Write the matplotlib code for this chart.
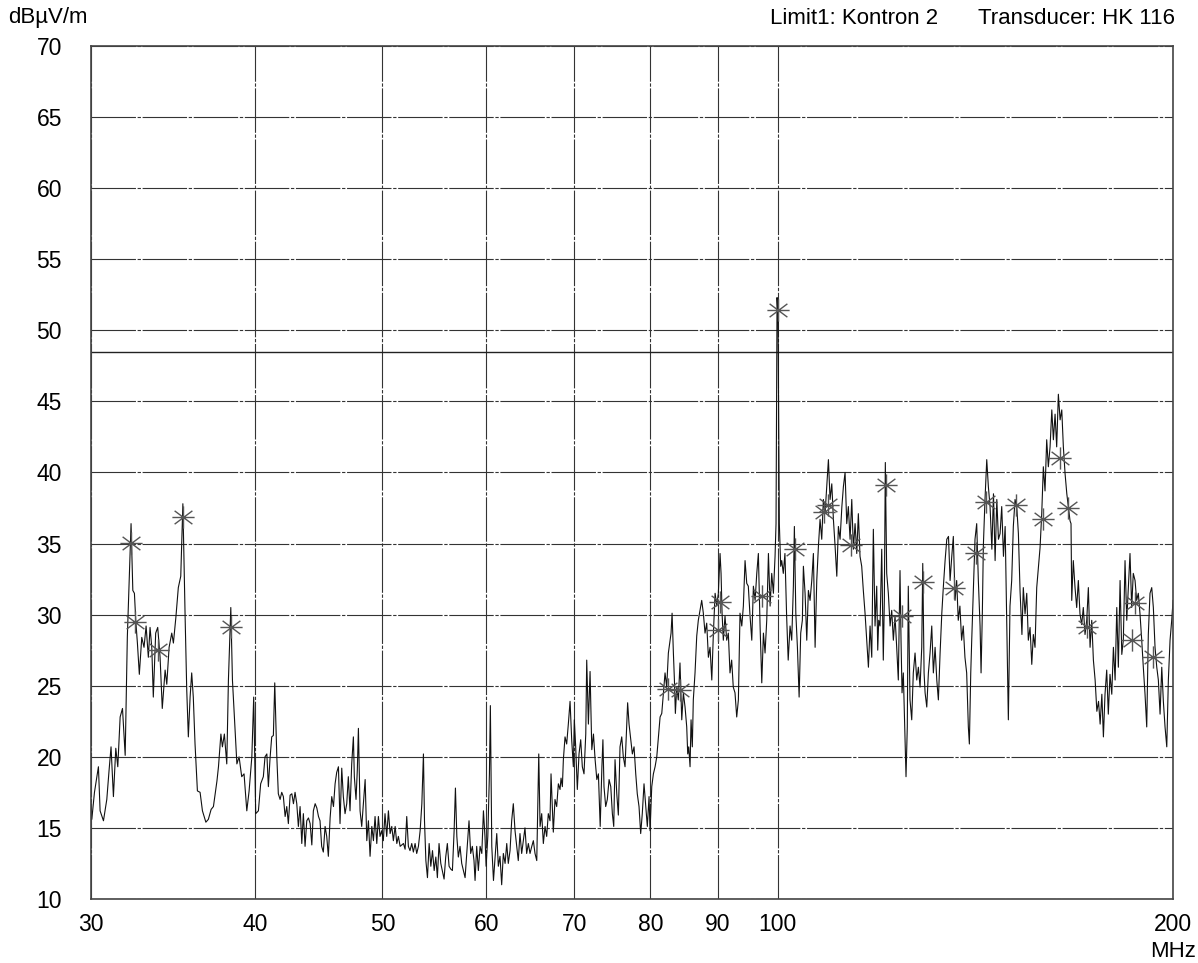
import matplotlib
matplotlib.use("Agg")
import matplotlib.pyplot as plt
import numpy as np
from matplotlib.path import Path
from matplotlib.ticker import FixedLocator, FixedFormatter, NullLocator

plt.rcParams['font.family'] = ['Liberation Sans', 'DejaVu Sans']

# measured trace, (MHz, dBuV/m), split by band
seg_30_41 = [(30.0, 16.9), (30.04, 15.6), (30.18, 17.5), (30.39, 19.3), (30.48, 16.2), (30.66, 15.5),
             (30.84, 17.0), (30.96, 19.0), (31.07, 20.7), (31.2, 17.2), (31.33, 20.6), (31.44, 19.3),
             (31.57, 22.8), (31.7, 23.4), (31.85, 20.1), (31.97, 28.4), (32.18, 36.4), (32.28, 31.7),
             (32.37, 31.5), (32.45, 29.5), (32.54, 28.0), (32.65, 25.8), (32.79, 28.4), (32.92, 27.7),
             (33.04, 29.2), (33.17, 27.0), (33.27, 29.1), (33.37, 27.7), (33.46, 24.2), (33.6, 28.7),
             (33.72, 29.1), (33.86, 27.0), (33.99, 23.4), (34.16, 26.1), (34.26, 25.1), (34.4, 27.7),
             (34.56, 28.7), (34.66, 28.0), (34.81, 29.8), (34.96, 31.9), (35.11, 32.7), (35.24, 37.8),
             (35.38, 29.8), (35.48, 24.7), (35.58, 21.4), (35.69, 24.2), (35.79, 25.9), (35.89, 24.2),
             (36.0, 20.9), (36.15, 17.6), (36.32, 17.5), (36.47, 16.2), (36.69, 15.4), (36.85, 15.6),
             (37.03, 16.3), (37.18, 16.5), (37.41, 18.3), (37.51, 19.3), (37.67, 21.6), (37.77, 20.7),
             (37.9, 21.6), (38.06, 19.5), (38.17, 25.4), (38.33, 30.5), (38.44, 25.4), (38.57, 22.8),
             (38.74, 19.5), (38.89, 20.0), (39.07, 18.6), (39.23, 18.8), (39.42, 16.2), (39.58, 17.6),
             (39.77, 20.0), (39.9, 24.2), (40.04, 16.0), (40.23, 16.2), (40.39, 18.1), (40.58, 18.6),
             (40.7, 20.0), (40.83, 20.2), (40.94, 17.9)]

seg_41_58 = [(41.06, 19.9), (41.18, 21.4), (41.3, 21.5), (41.4, 25.2), (41.55, 20.0), (41.66, 17.4),
             (41.79, 17.0), (41.91, 17.5), (42.03, 17.2), (42.16, 15.8), (42.28, 16.5), (42.4, 15.3),
             (42.53, 17.3), (42.66, 17.4), (42.78, 16.7), (42.9, 17.5), (43.03, 16.7), (43.15, 15.1),
             (43.28, 16.5), (43.41, 13.9), (43.53, 16.0), (43.66, 13.7), (43.79, 15.5), (43.92, 15.7),
             (44.05, 15.3), (44.18, 13.8), (44.3, 16.2), (44.44, 16.7), (44.57, 16.4), (44.7, 15.8),
             (44.82, 15.5), (44.95, 13.7), (45.08, 13.3), (45.22, 15.1), (45.35, 14.4), (45.48, 13.0),
             (45.62, 15.7), (45.75, 17.2), (45.89, 16.5), (46.02, 18.1), (46.15, 18.9), (46.29, 19.3),
             (46.42, 15.3), (46.56, 19.2), (46.69, 17.2), (46.83, 16.0), (46.97, 16.7), (47.1, 18.6),
             (47.24, 16.2), (47.38, 19.5), (47.52, 21.4), (47.6, 18.6), (47.74, 17.0), (47.85, 19.1),
             (47.94, 22.0), (48.08, 16.2), (48.22, 15.1), (48.36, 16.7), (48.51, 18.4), (48.65, 14.1),
             (48.79, 15.5), (48.93, 13.0), (49.08, 15.1), (49.22, 14.1), (49.36, 15.8), (49.51, 13.9),
             (49.65, 15.8), (49.79, 14.4), (49.94, 14.8), (50.08, 14.1), (50.23, 16.0), (50.38, 14.4),
             (50.53, 16.2), (50.68, 14.6), (50.83, 15.1), (50.97, 14.1), (51.13, 15.1), (51.28, 13.9),
             (51.42, 14.4), (51.58, 13.7), (51.73, 13.8), (51.88, 13.9), (52.03, 13.5), (52.18, 15.8),
             (52.33, 13.7), (52.48, 13.4), (52.64, 13.9), (52.79, 13.3), (52.95, 13.9), (53.1, 13.2),
             (53.26, 13.7), (53.42, 14.8), (53.58, 16.7), (53.73, 20.2), (53.83, 15.5), (53.96, 12.7),
             (54.11, 11.5), (54.27, 13.9), (54.43, 12.3), (54.59, 13.4), (54.75, 12.0), (54.91, 12.95),
             (55.06, 11.5), (55.22, 13.9), (55.39, 12.5), (55.54, 12.0), (55.71, 11.4), (55.87, 12.95),
             (56.03, 13.9), (56.2, 12.3), (56.37, 12.1), (56.53, 12.0), (56.7, 14.8), (56.83, 17.8),
             (56.97, 14.4), (57.12, 12.95), (57.29, 13.7), (57.46, 12.5), (57.63, 12.0), (57.8, 11.5),
             (57.97, 13.2), (58.13, 14.8)]

seg_58_81 = [(58.2, 15.5), (58.37, 13.2), (58.54, 13.7), (58.71, 12.7), (58.82, 11.3), (58.99, 13.7),
             (59.16, 12.0), (59.34, 13.7), (59.52, 13.2), (59.69, 16.2), (59.85, 14.4), (59.97, 12.3),
             (60.15, 14.4), (60.32, 18.8), (60.42, 23.6), (60.57, 13.7), (60.75, 11.3), (60.93, 13.0),
             (61.1, 14.6), (61.27, 12.3), (61.45, 13.0), (61.63, 11.0), (61.81, 13.2), (62.0, 12.5),
             (62.18, 13.9), (62.35, 12.5), (62.54, 13.4), (62.72, 15.5), (62.9, 16.7), (63.09, 14.8),
             (63.28, 13.7), (63.45, 12.7), (63.64, 14.6), (63.83, 13.2), (64.01, 14.1), (64.2, 15.0),
             (64.39, 13.2), (64.58, 13.9), (64.77, 13.2), (64.97, 13.7), (65.15, 14.1), (65.34, 13.2),
             (65.54, 12.7), (65.65, 16.5), (65.77, 20.2), (65.92, 15.1), (66.11, 16.0), (66.3, 13.9),
             (66.5, 15.1), (66.69, 14.4), (66.88, 16.0), (67.08, 15.5), (67.2, 18.8), (67.35, 16.5),
             (67.47, 14.7), (67.67, 17.0), (67.87, 16.5), (68.07, 18.1), (68.27, 17.7), (68.39, 18.5),
             (68.55, 17.9), (68.67, 19.8), (68.87, 21.4), (69.07, 20.9), (69.27, 22.3), (69.48, 23.9),
             (69.68, 21.2), (69.88, 19.3), (70.0, 22.6), (70.17, 20.7), (70.37, 17.7), (70.58, 20.2),
             (70.79, 21.2), (70.99, 19.3), (71.2, 18.8), (71.42, 21.6), (71.54, 26.8), (71.75, 22.3),
             (71.96, 26.0), (72.18, 20.5), (72.39, 21.6), (72.6, 19.8), (72.82, 18.4), (73.02, 18.8),
             (73.25, 15.1), (73.47, 19.3), (73.6, 21.2), (73.74, 17.9), (73.96, 16.5), (74.17, 17.0),
             (74.4, 18.4), (74.62, 17.9), (74.83, 16.0), (75.01, 15.1), (75.18, 19.8), (75.41, 17.4),
             (75.62, 15.9), (75.84, 20.7), (76.07, 21.4), (76.28, 20.0), (76.51, 19.3), (76.73, 22.1),
             (76.86, 23.8), (77.05, 22.3), (77.28, 21.2), (77.5, 20.2), (77.73, 20.7), (77.96, 18.8),
             (78.17, 17.4), (78.41, 16.5), (78.64, 14.6), (78.86, 16.0), (79.1, 18.1), (79.34, 16.5),
             (79.56, 15.1), (79.8, 17.2), (79.94, 14.8), (80.18, 17.9), (80.41, 18.8), (80.65, 19.3),
             (80.89, 20.0), (81.12, 21.4), (81.36, 22.8)]

seg_81_112 = [(81.6, 23.05), (81.84, 24.5), (82.07, 25.9), (82.31, 24.9), (82.55, 27.3), (82.8, 28.2),
              (82.94, 28.7), (83.09, 30.1), (83.28, 27.3), (83.43, 25.4), (83.57, 23.05), (83.77, 24.9),
              (84.0, 24.0), (84.25, 26.6), (84.51, 22.6), (84.75, 24.5), (85.0, 23.5), (85.25, 22.1),
              (85.4, 20.2), (85.55, 20.7), (85.75, 19.3), (85.9, 22.6), (86.09, 20.7), (86.24, 24.0),
              (86.5, 25.9), (86.76, 28.5), (87.0, 29.6), (87.26, 30.3), (87.52, 31.0), (87.77, 30.1),
              (88.03, 28.7), (88.29, 29.4), (88.55, 27.0), (88.81, 27.7), (89.08, 25.4), (89.33, 28.7),
              (89.6, 31.5), (89.86, 30.6), (90.11, 31.5), (90.38, 34.3), (90.54, 32.9), (90.7, 30.1),
              (90.9, 28.2), (91.17, 29.9), (91.44, 28.2), (91.7, 28.7), (91.97, 25.9), (92.24, 26.8),
              (92.5, 24.9), (92.78, 24.5), (93.06, 22.8), (93.33, 24.0), (93.6, 30.1), (93.89, 29.2),
              (94.15, 30.6), (94.43, 33.8), (94.71, 32.2), (94.97, 32.0), (95.26, 29.9), (95.55, 28.2),
              (95.82, 32.0), (96.11, 31.0), (96.39, 32.9), (96.66, 34.3), (96.95, 29.2), (97.24, 25.2),
              (97.52, 28.7), (97.8, 27.3), (98.09, 29.6), (98.38, 34.3), (98.67, 30.6), (98.95, 32.9),
              (99.24, 31.5), (99.53, 34.1), (99.7, 36.4), (99.88, 52.3), (100.05, 51.0), (100.28, 36.4),
              (100.52, 33.4), (100.7, 33.8), (100.98, 32.9), (101.27, 34.3), (101.57, 29.9), (101.85, 26.8),
              (102.18, 29.2), (102.48, 28.2), (102.78, 32.0), (102.96, 36.2), (103.22, 30.1), (103.51, 27.7),
              (103.82, 24.2), (104.11, 28.7), (104.41, 29.6), (104.6, 33.4), (104.91, 31.5), (105.22, 28.2),
              (105.52, 31.7), (105.83, 31.0), (106.15, 32.4), (106.45, 34.3), (106.77, 27.7), (107.08, 32.4),
              (107.39, 34.8), (107.7, 36.7), (108.02, 35.3), (108.33, 38.1), (108.65, 37.1), (108.98, 39.0),
              (109.29, 40.9), (109.61, 38.1), (109.94, 39.2), (110.25, 36.7), (110.58, 34.8), (110.91, 32.7),
              (111.22, 36.2), (111.55, 35.3)]

seg_112_153 = [(111.9, 37.6), (112.2, 39.0), (112.53, 40.0), (112.86, 36.4), (113.18, 37.6), (113.52, 35.3),
               (113.86, 38.1), (114.18, 34.6), (114.52, 36.4), (114.86, 34.3), (115.18, 37.1), (115.52, 34.1),
               (115.86, 33.4), (116.19, 31.7), (116.54, 30.1), (116.89, 28.2), (117.23, 26.3), (117.57, 29.2),
               (117.92, 27.0), (118.25, 36.0), (118.6, 29.2), (118.95, 32.0), (119.16, 27.5), (119.37, 29.6),
               (119.64, 29.2), (120.0, 34.6), (120.33, 26.8), (120.55, 31.0), (120.76, 40.7), (121.05, 32.9),
               (121.4, 31.5), (121.77, 29.2), (122.12, 30.3), (122.47, 28.2), (122.83, 29.9), (123.19, 27.7),
               (123.54, 25.4), (123.91, 33.1), (124.13, 28.2), (124.35, 24.5), (124.63, 25.9), (125.0, 21.2),
               (125.22, 18.6), (125.5, 22.1), (125.72, 32.0), (126.1, 24.0), (126.48, 22.6), (126.83, 25.9),
               (127.22, 27.3), (127.6, 25.4), (127.96, 26.3), (128.34, 24.9), (128.72, 27.7), (128.95, 33.6),
               (129.25, 25.9), (129.48, 24.5), (129.86, 23.5), (130.23, 25.9), (130.61, 27.3), (131.0, 29.2),
               (131.37, 25.9), (131.77, 27.7), (132.16, 25.4), (132.53, 24.0), (132.93, 27.3), (133.33, 30.1),
               (133.7, 32.0), (134.1, 33.8), (134.5, 35.3), (134.9, 35.5), (135.28, 32.4), (135.68, 34.1),
               (136.05, 35.5), (136.46, 31.0), (136.85, 32.4), (137.23, 29.6), (137.63, 30.6), (138.04, 28.2),
               (138.44, 29.2), (138.85, 27.0), (139.27, 25.9), (139.68, 22.1), (139.93, 20.9), (140.27, 25.9),
               (140.51, 28.2), (140.91, 31.7), (141.32, 35.3), (141.74, 36.4), (142.15, 32.4), (142.58, 29.2),
               (142.83, 25.9), (143.15, 30.1), (143.4, 34.8), (143.82, 38.1), (144.26, 40.9), (144.67, 39.0),
               (145.1, 37.6), (145.56, 34.6), (145.97, 38.5), (146.39, 33.8), (146.83, 38.1), (147.25, 35.3),
               (147.67, 35.7), (148.1, 37.6), (148.55, 34.1), (148.99, 36.2), (149.42, 29.2), (149.83, 22.6),
               (150.26, 30.6), (150.71, 32.4), (151.14, 36.2), (151.6, 38.1), (152.05, 37.6), (152.49, 35.7),
               (152.93, 31.7)]

seg_153_200 = [(153.44, 28.6), (153.81, 31.9), (154.28, 30.05), (154.74, 31.5), (155.17, 28.2), (155.64, 29.1),
               (156.11, 26.5), (156.54, 28.6), (157.0, 27.7), (157.47, 31.9), (157.92, 33.3), (158.39, 34.7),
               (158.86, 37.1), (159.31, 40.4), (159.78, 38.7), (160.25, 42.3), (160.71, 40.4), (161.2, 41.8),
               (161.69, 44.4), (162.14, 42.3), (162.62, 44.1), (163.08, 41.8), (163.56, 45.5), (164.06, 43.7),
               (164.54, 44.4), (165.0, 41.8), (165.5, 39.9), (166.0, 38.5), (166.45, 37.6), (166.94, 36.6),
               (167.23, 36.4), (167.44, 31.0), (167.9, 33.8), (168.41, 31.9), (168.9, 30.5), (169.39, 32.4),
               (169.88, 30.05), (170.39, 29.3), (170.87, 30.5), (171.39, 28.6), (171.9, 29.6), (172.39, 31.9),
               (172.91, 27.7), (173.42, 29.6), (173.92, 26.8), (174.45, 25.4), (174.98, 23.2), (175.5, 23.9),
               (175.99, 22.3), (176.52, 24.4), (177.0, 21.4), (177.5, 24.4), (178.03, 26.1), (178.53, 23.0),
               (179.06, 25.8), (179.62, 24.4), (180.13, 27.7), (180.67, 25.4), (181.2, 30.5), (181.7, 26.3),
               (182.25, 32.4), (182.8, 27.2), (183.29, 28.2), (183.84, 33.8), (184.4, 29.6), (184.9, 31.9),
               (185.45, 34.3), (186.0, 30.5), (186.52, 32.9), (187.1, 32.4), (187.63, 31.0), (188.17, 31.5),
               (188.73, 30.05), (189.3, 28.2), (189.83, 26.3), (190.4, 24.4), (190.97, 22.1), (191.5, 28.6),
               (192.07, 31.5), (192.65, 31.9), (193.2, 30.5), (193.77, 27.7), (194.36, 26.3), (194.9, 25.4),
               (195.49, 23.0), (196.07, 26.3), (196.62, 23.9), (197.2, 22.1), (197.8, 20.7), (198.35, 25.4),
               (198.94, 28.2), (199.52, 29.6), (200.0, 31.0)]

# peak markers (MHz, dBuV/m)
marker_f = [32.18, 32.41, 33.76, 35.24, 38.33, 82.55, 84.25, 90.1, 90.4, 97.2, 100.0, 103.0,
            108.5, 109.3, 113.7, 121.0, 124.3, 129.0, 136.2, 141.5, 144.0, 151.9, 159.3, 164.0,
            166.3, 172.0, 186.0, 187.1, 193.2]
marker_l = [35.05, 29.5, 27.5, 36.9, 29.1, 24.8, 24.7, 28.9, 30.9, 31.3, 51.4, 34.6,
            37.2, 37.7, 34.9, 39.1, 29.9, 32.3, 31.9, 34.3, 37.9, 37.7, 36.7, 41.0,
            37.5, 29.1, 28.2, 30.8, 27.0]

limit1 = 48.5

x_ticks = [30, 40, 50, 60, 70, 80, 90, 100, 200]
y_ticks = list(range(10, 75, 5))

trace = np.array(seg_30_41 + seg_41_58 + seg_58_81 + seg_81_112 + seg_112_153 + seg_153_200)
freq, level = trace[:, 0], trace[:, 1]

fig = plt.figure(figsize=(11.98, 9.63), dpi=100)
ax = fig.add_axes([0.0760, 0.0665, 0.9032, 0.8858])
ax.set_xscale('log')
ax.set_xlim(30, 200)
ax.set_ylim(10, 70)

ax.xaxis.set_major_locator(FixedLocator(x_ticks))
ax.xaxis.set_major_formatter(FixedFormatter([str(t) for t in x_ticks]))
ax.xaxis.set_minor_locator(NullLocator())
ax.set_yticks(y_ticks)
ax.tick_params(axis='both', length=0, labelsize=16.5, colors='black')
ax.tick_params(axis='y', pad=21)
ax.tick_params(axis='x', pad=10)

ax.grid(True, color='#333333', lw=0.8, linestyle=(0, (40, 1.5, 3, 1.5)))
ax.set_axisbelow(True)
for sp in ax.spines.values():
    sp.set_color('#444444')
    sp.set_linewidth(1.2)

ax.axhline(limit1, color='#222222', lw=1.0)
ax.plot(freq, level, color='#111111', lw=0.8)

# asterisk marker
star = Path([(-1, 0), (1, 0), (-0.8, -0.6), (0.8, 0.6), (-0.8, 0.6), (0.8, -0.6), (0, -1), (0, 1)],
            [Path.MOVETO, Path.LINETO] * 4)
ax.plot(marker_f, marker_l, linestyle='none', marker=star, markersize=16,
        markeredgecolor='#555555', markerfacecolor='none', markeredgewidth=1.0)

fig.text(8 / 1198, 1 - 18 / 963, 'dBµV/m', ha='left', va='center', fontsize=16)
fig.text(938 / 1198, 1 - 18 / 963, 'Limit1: Kontron 2', ha='right', va='center', fontsize=16)
fig.text(1175 / 1198, 1 - 18 / 963, 'Transducer: HK 116', ha='right', va='center', fontsize=16)
fig.text(1196 / 1198, 1 - 951 / 963, 'MHz', ha='right', va='center', fontsize=16)

fig.savefig('out.png', dpi=100, facecolor='white')
